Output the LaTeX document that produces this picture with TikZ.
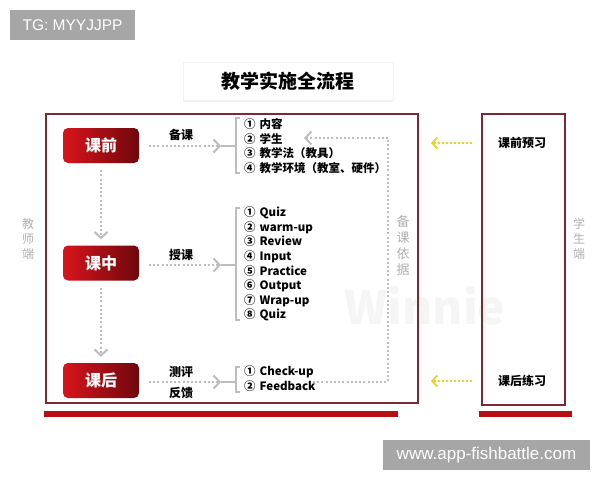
\documentclass[tikz,border=0pt]{standalone}
\usepackage{fontspec}
\setmainfont{Noto Sans CJK SC}
\newfontfamily\wmfont{Liberation Sans}
\usetikzlibrary{arrows.meta,shadows}
\definecolor{btnA}{HTML}{D8141C}
\definecolor{btnB}{HTML}{6E080C}
\definecolor{frameC}{HTML}{7B2A35}
\definecolor{barC}{HTML}{B80D12}
\definecolor{arrC}{HTML}{BDBDBD}
\definecolor{yelC}{HTML}{E8D22A}
\definecolor{sideC}{HTML}{B0B0B0}
\definecolor{wmbox}{HTML}{A6A6A6}
\newcommand{\cn}[1]{#1\hspace{4pt}}
\begin{document}
\begin{tikzpicture}[x=1pt,y=-1pt,
  btn/.style={rounded corners=5pt, left color=btnA, middle color=btnA!92!black, right color=btnB,
    text=white, font=\bfseries\fontsize{16}{18}\selectfont, minimum width=76pt, minimum height=35pt, inner sep=0pt},
  frm/.style={draw=frameC, line width=1.1pt},
  bar/.style={fill=barC, draw=none},
  garr/.style={draw=arrC, line width=2pt, dash pattern=on 2pt off 2.2pt,
    -{Straight Barb[length=6pt,width=13pt,line width=2pt]}},
  gline/.style={draw=arrC, line width=1.6pt},
  yarr/.style={draw=yelC, line width=1.8pt, dash pattern=on 2pt off 2pt,
    -{Straight Barb[length=5pt,width=11pt,line width=1.8pt]}},
  lst/.style={anchor=west, align=left, inner sep=0pt, font=\bfseries\fontsize{11.5}{14.6}\selectfont},
  lbl/.style={font=\bfseries\fontsize{12}{14}\selectfont, inner sep=0pt},
  side/.style={text=sideC, align=center, font=\fontsize{12}{15}\selectfont, inner sep=0pt},
  wm/.style={fill=wmbox, text=white, font=\wmfont\fontsize{15.5}{17}\selectfont, inner sep=0pt}
]
\useasboundingbox (0,0) rectangle (600,480);
\fill[white] (0,0) rectangle (600,480);

% watermark boxes
\node[wm, minimum width=125pt, minimum height=30pt] (tg) at (72.5,25) {TG: MYYJJPP};
\node[wm, minimum width=207pt, minimum height=30pt, font=\wmfont\fontsize{17}{19}\selectfont] (www) at (486.5,455) {www.app-fishbattle.com};
\node[text=black!4, font=\bfseries\fontsize{46}{50}\selectfont, inner sep=0pt] (winnie) at (425,306) {Winnie};

% title
\node[fill=white, draw=black!5, drop shadow={shadow xshift=0pt, shadow yshift=-1.5pt, opacity=0.12},
  minimum width=210pt, minimum height=38pt, font=\bfseries\fontsize{19}{22}\selectfont] (title) at (288,81) {教学实施全流程};

% frames and bars
\draw[frm] (46,114) rectangle (418,403);
\draw[frm] (482,114) rectangle (565,405);
\fill[bar] (44,411) rectangle (398,417);
\fill[bar] (479,411) rectangle (572,417);

% side labels
\node[side] (teacher) at (28,239) {教\\师\\端};
\node[side] (student) at (579,239) {学\\生\\端};
\node[side, font=\fontsize{13}{16}\selectfont] (basis) at (403,246) {备\\课\\依\\据};

% buttons
\node[btn] (b1) at (101,145.5) {课前};
\node[btn] (b2) at (101,263) {课中};
\node[btn] (b3) at (101,380.5) {课后};

% vertical arrows
\draw[garr] ([yshift=-7pt]b1.south) -- ([yshift=6pt]b2.north);
\draw[garr] ([yshift=-7pt]b2.south) -- ([yshift=6pt]b3.north);

% labels
\node[lbl] (lab1) at (181,135) {备课};
\node[lbl] (lab2) at (181,255) {授课};
\node[lbl] (lab3a) at (181,372) {测评};
\node[lbl] (lab3b) at (181,393) {反馈};

% lists
\node[lst] (l1) at (244,146) {\cn{①}内容\\\cn{②}学生\\\cn{③}教学法（教具）\\\cn{④}教学环境（教室、硬件）};
\node[lst] (l2) at (244,264) {\cn{①}Quiz\\\cn{②}warm-up\\\cn{③}Review\\\cn{④}Input\\\cn{⑤}Practice\\\cn{⑥}Output\\\cn{⑦}Wrap-up\\\cn{⑧}Quiz};
\node[lst] (l3) at (244,378.5) {\cn{①}Check-up\\\cn{②}Feedback};

% horizontal arrows and brackets
\coordinate (a1s) at (149,146); \coordinate (a1e) at (221,146);
\coordinate (a2s) at (149,265); \coordinate (a2e) at (221,265);
\coordinate (a3s) at (149,382); \coordinate (a3e) at (221,382);
\draw[garr] (a1s) -- (a1e);
\draw[garr] (a2s) -- (a2e);
\draw[garr] (a3s) -- (a3e);
\draw[gline] (a1e) -- (236,146);
\draw[gline] (a2e) -- (236,265);
\draw[gline] (a3e) -- (236,382);
\draw[gline] (240,118) -- (236,118) -- (236,173) -- (240,173);
\draw[gline] (240,208) -- (236,208) -- (236,320) -- (240,320);
\draw[gline] (240,367) -- (236,367) -- (236,392) -- (240,392);

% feedback loop
\coordinate (loopA) at (313,382);
\coordinate (loopB) at (388,382);
\coordinate (loopC) at (388,138);
\coordinate (loopD) at (304,138);
\draw[draw=arrC, line width=2pt, dash pattern=on 2pt off 2.2pt] (loopA) -- (loopB) -- (loopC);
\draw[garr] (loopC) -- (loopD);

% student side
\node[lbl] (pre) at (522,143) {课前预习};
\node[lbl] (post) at (522,381) {课后练习};
\coordinate (y1s) at (472,143); \coordinate (y1e) at (431,143);
\coordinate (y2s) at (472,381); \coordinate (y2e) at (431,381);
\draw[yarr] (y1s) -- (y1e);
\draw[yarr] (y2s) -- (y2e);
\end{tikzpicture}
\end{document}
